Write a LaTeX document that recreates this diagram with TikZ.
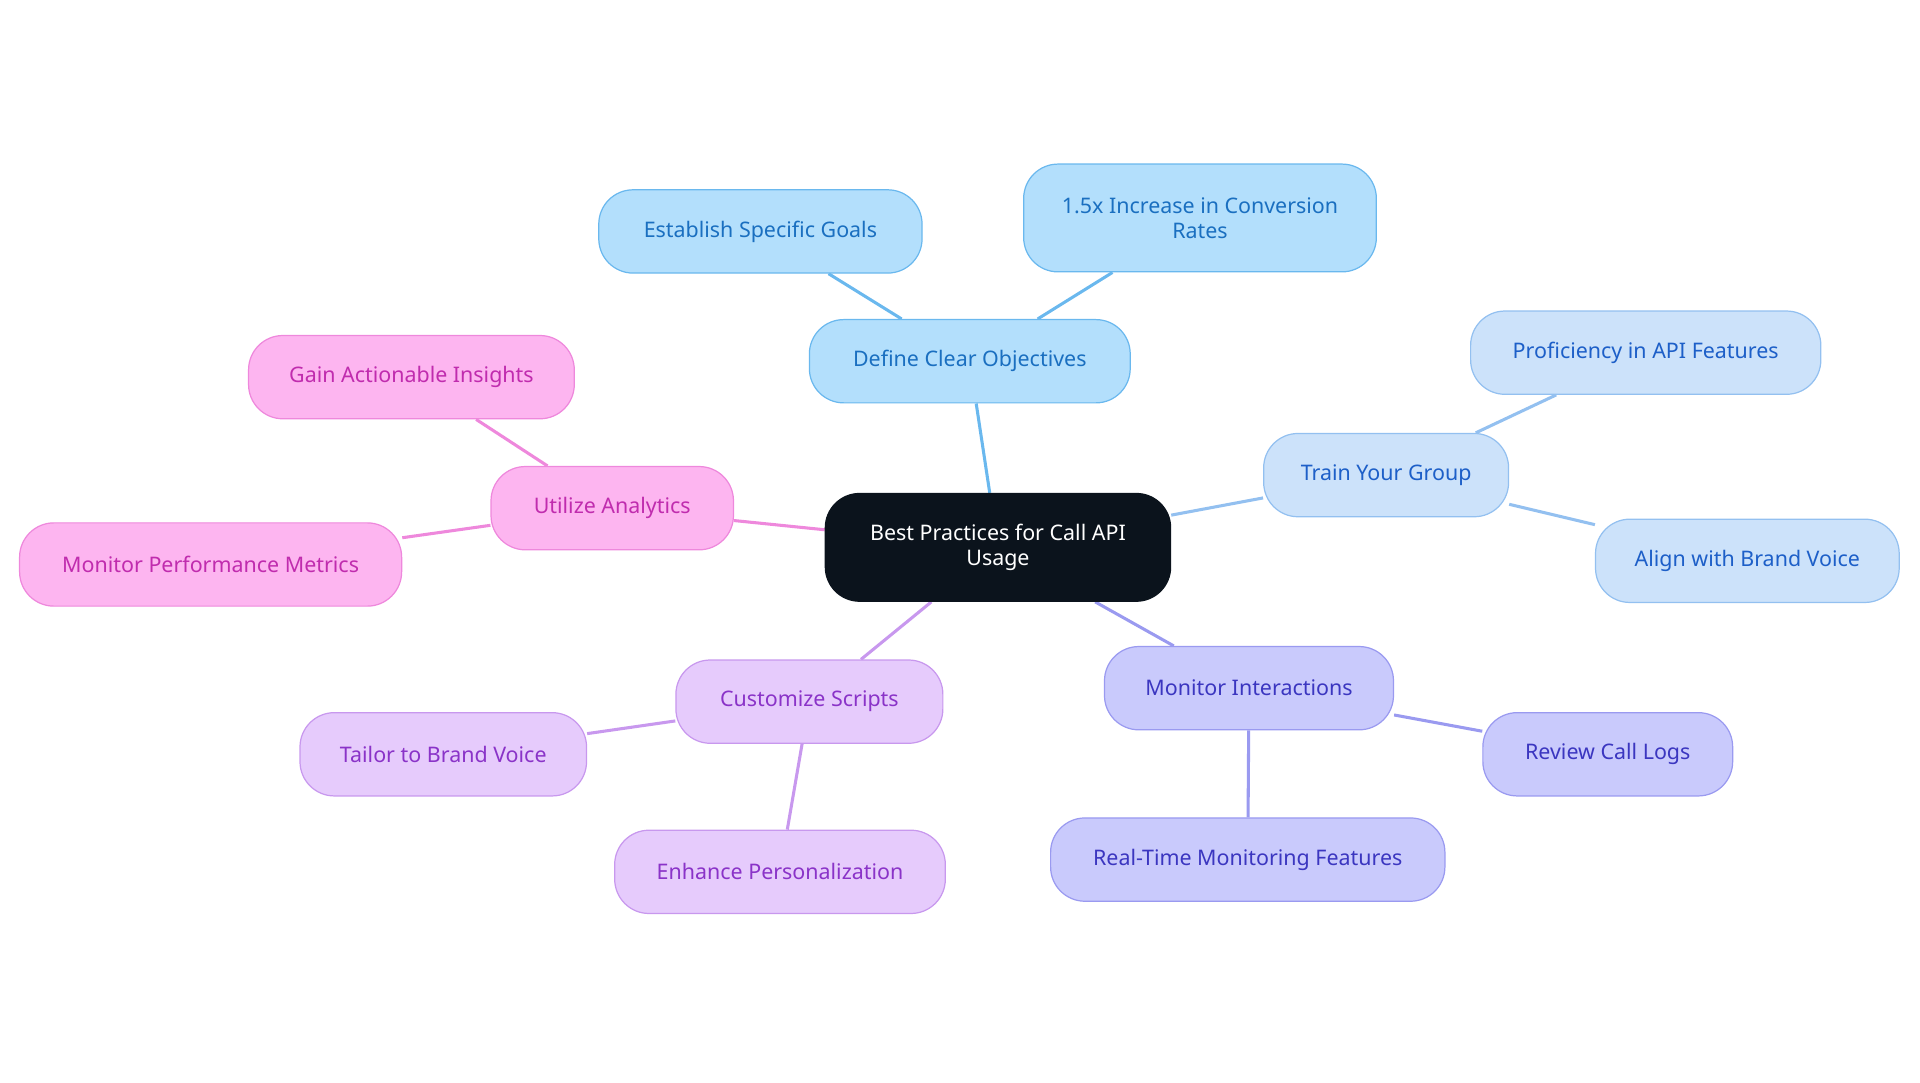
\documentclass[tikz,border=0pt]{standalone}
\usepackage{fontspec}
\setmainfont{Noto Sans}
\usetikzlibrary{backgrounds}
\definecolor{cfill}{HTML}{0B131C}
\definecolor{bfill}{HTML}{B3DFFC}\definecolor{bline}{HTML}{6AB8EE}\definecolor{btext}{HTML}{1A6FC0}
\definecolor{tfill}{HTML}{CCE2FA}\definecolor{tline}{HTML}{93C0F0}\definecolor{ttext}{HTML}{1D5FC8}
\definecolor{mfill}{HTML}{C9CAFC}\definecolor{mline}{HTML}{9A9AF0}\definecolor{mtext}{HTML}{3B36C0}
\definecolor{sfill}{HTML}{E6CBFC}\definecolor{sline}{HTML}{C898EE}\definecolor{stext}{HTML}{8A33C8}
\definecolor{ufill}{HTML}{FDB5F0}\definecolor{uline}{HTML}{EE88DC}\definecolor{utext}{HTML}{C02CAE}
\tikzset{
 box/.style={draw, line width=1pt, rounded corners=28pt, minimum height=68pt, align=center, font=\fontsize{17.5pt}{20pt}\selectfont, inner sep=0pt},
 B/.style={box, fill=bfill, draw=bline, text=btext},
 T/.style={box, fill=tfill, draw=tline, text=ttext},
 M/.style={box, fill=mfill, draw=mline, text=mtext},
 S/.style={box, fill=sfill, draw=sline, text=stext},
 U/.style={box, fill=ufill, draw=uline, text=utext},
 e/.style={line width=2.5pt}
}
\begin{document}
\begin{tikzpicture}[x=1pt,y=-1pt]
\useasboundingbox (0,0) rectangle (1568,884);
\node[box, fill=cfill, draw=cfill, text=white, minimum width=282pt, minimum height=88pt] (c) at (815,447) {Best Practices for Call API\\Usage};
\node[B, minimum width=262pt] (d) at (792,295) {Define Clear Objectives};
\node[B, minimum width=264pt] (d1) at (621,189) {Establish Specific Goals};
\node[B, minimum width=288pt, minimum height=88pt] (d2) at (980,178) {1.5x Increase in Conversion\\Rates};
\node[T, minimum width=200pt] (t) at (1132,388) {Train Your Group};
\node[T, minimum width=286pt] (t1) at (1344,288) {Proficiency in API Features};
\node[T, minimum width=248pt] (t2) at (1427,458) {Align with Brand Voice};
\node[M, minimum width=236pt] (m) at (1020,562) {Monitor Interactions};
\node[M, minimum width=204pt] (m1) at (1313,616) {Review Call Logs};
\node[M, minimum width=322pt] (m2) at (1019,702) {Real-Time Monitoring Features};
\node[S, minimum width=218pt] (s) at (661,573) {Customize Scripts};
\node[S, minimum width=234pt] (s1) at (362,616) {Tailor to Brand Voice};
\node[S, minimum width=270pt] (s2) at (637,712) {Enhance Personalization};
\node[U, minimum width=198pt] (u) at (500,415) {Utilize Analytics};
\node[U, minimum width=266pt] (u1) at (336,308) {Gain Actionable Insights};
\node[U, minimum width=312pt] (u2) at (172,461) {Monitor Performance Metrics};
\begin{scope}[on background layer]
\draw[e, bline] (c)--(d) (d)--(d1) (d)--(d2);
\draw[e, tline] (c)--(t) (t)--(t1) (t)--(t2);
\draw[e, mline] (c)--(m) (m)--(m1) (m)--(m2);
\draw[e, sline] (c)--(s) (s)--(s1) (s)--(s2);
\draw[e, uline] (c)--(u) (u)--(u1) (u)--(u2);
\end{scope}
\end{tikzpicture}
\end{document}
